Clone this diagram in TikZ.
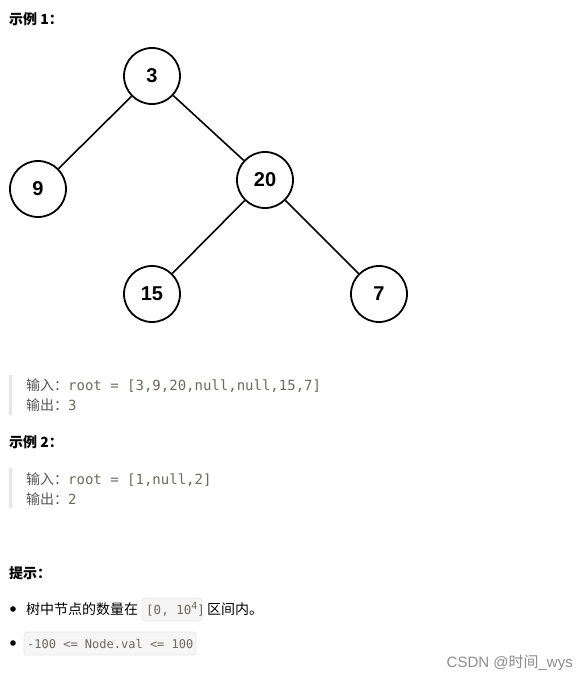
\documentclass[tikz,border=0pt]{standalone}
\usepackage{fontspec}
\setmainfont{Liberation Sans}
\setmonofont{DejaVu Sans Mono}
\newfontfamily\cjk{Noto Sans CJK SC}
\usetikzlibrary{positioning}

\definecolor{codegray}{HTML}{6E6862}
\definecolor{labelgray}{HTML}{555555}
\definecolor{bargray}{HTML}{E6E6E6}
\definecolor{boxfill}{HTML}{F5F5F5}
\definecolor{boxline}{HTML}{E8E8E8}

\begin{document}
\begin{tikzpicture}[x=1pt,y=-1pt,inner sep=0pt,
    treenode/.style={circle,draw,line width=1.8pt,minimum size=56pt,
      font=\fontsize{20}{20}\selectfont\bfseries},
    heading/.style={anchor=base west,font=\fontsize{14}{14}\selectfont\cjk\bfseries},
    codeline/.style={anchor=base west,text=codegray,font=\fontsize{14}{14}\selectfont},
    tipline/.style={anchor=base west,font=\fontsize{14}{14}\selectfont\cjk},
    inlinecode/.style={rounded corners=3pt,fill=boxfill,draw=boxline,line width=0.8pt}]

  % page frame
  \useasboundingbox (0,0) rectangle (588,679);

  % 示例 1 title
  \node[heading] (title1) at (9,25) {示例 1：};

  % the tree
  \node[treenode] (n3)  at (152,76)  {3};
  \node[treenode] (n9)  at (38,189)  {9};
  \node[treenode] (n20) at (265,180) {20};
  \node[treenode] (n15) at (152,294) {15};
  \node[treenode] (n7)  at (379,294) {7};

  \draw[line width=1.6pt] (n3) -- (n9);
  \draw[line width=1.6pt] (n3) -- (n20);
  \draw[line width=1.6pt] (n20) -- (n15);
  \draw[line width=1.6pt] (n20) -- (n7);

  % code block 1
  \fill[bargray] (9,375) rectangle (12,415);
  \node[codeline] (in1) at (26,390) {{\cjk\color{labelgray}输入：}\ttfamily root = [3,9,20,null,null,15,7]};
  \node[codeline] (out1) at (26,410) {{\cjk\color{labelgray}输出：}\ttfamily 3};

  % 示例 2
  \node[heading] (title2) at (9,447) {示例 2：};
  \fill[bargray] (9,468) rectangle (12,508);
  \node[codeline] (in2) at (26,484) {{\cjk\color{labelgray}输入：}\ttfamily root = [1,null,2]};
  \node[codeline] (out2) at (26,504) {{\cjk\color{labelgray}输出：}\ttfamily 2};

  % 提示
  \node[heading] (tips) at (9,578) {提示：};

  \fill (13,609) circle (2.8pt);
  \node[tipline] (tip1a) at (26,614) {树中节点的数量在};
  \draw[inlinecode] (142,598) rectangle (202,621);
  \node[anchor=base west,text=codegray,font=\fontsize{12.5}{12.5}\ttfamily] (tip1b)
    at (146,614) {[0, 10\raisebox{5pt}{\fontsize{10}{10}\selectfont 4}]};
  \node[tipline] (tip1c) at (207,614) {区间内。};

  \fill (13,643) circle (2.8pt);
  \draw[inlinecode] (24,632) rectangle (196,655);
  \node[anchor=base west,text=codegray,font=\fontsize{12}{12}\ttfamily] (tip2)
    at (27,648) {-100 <= Node.val <= 100};

  % watermark
  \node[anchor=base east,text=black!45,font=\fontsize{15}{15}\selectfont] (mark)
    at (573,667) {CSDN @{\cjk 时间}\_wys};
\end{tikzpicture}
\end{document}
